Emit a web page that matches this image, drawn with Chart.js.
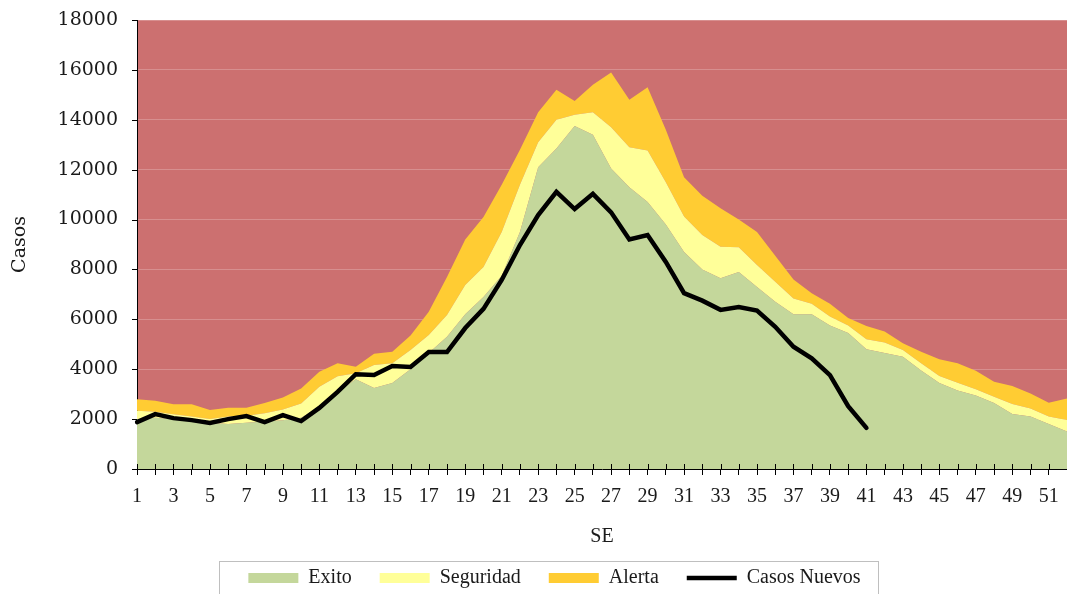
<!DOCTYPE html>
<html>
<head>
<meta charset="utf-8">
<script src="https://cdn.jsdelivr.net/npm/chart.js@4.4.1/dist/chart.umd.min.js"></script>
<style>
  html, body { margin: 0; padding: 0; background: #ffffff; }
  #wrap { width: 1067px; height: 594px; position: relative; }
</style>
</head>
<body>
<div id="wrap"><canvas id="c" width="1067" height="594"></canvas></div>
<script>
// Semanas epidemiológicas (SE)
const semanas = ['1','2','3','4','5','6','7','8','9','10','11','12','13','14','15','16','17','18','19','20',
  '21','22','23','24','25','26','27','28','29','30','31','32','33','34','35','36','37','38','39','40',
  '41','42','43','44','45','46','47','48','49','50','51','52'];

// Upper limit of each zone of the endemic channel
const exito = [2000,2050,2000,1950,1850,1800,1850,1900,1950,2050,
  2500,3100,3600,3250,3450,4000,4650,5300,6200,6900,
  7750,9500,12100,12850,13750,13400,12050,11300,10700,9800,
  8700,8000,7650,7900,7300,6700,6200,6200,5750,5450,
  4800,4650,4500,3950,3450,3150,2950,2650,2200,2100,1800,1500];

const seguridad = [2340,2300,2190,2100,2000,2100,2130,2230,2390,2630,
  3300,3720,3840,4170,4240,4770,5370,6170,7380,8100,
  9500,11400,13100,14000,14200,14300,13700,12900,12770,11500,
  10120,9380,8910,8890,8180,7510,6840,6620,6110,5750,
  5200,5070,4770,4240,3730,3460,3200,2900,2610,2430,2100,1960];

const alerta = [2800,2740,2600,2600,2370,2460,2460,2650,2870,3230,
  3900,4240,4100,4620,4700,5350,6300,7700,9200,10100,
  11400,12800,14300,15200,14750,15400,15900,14800,15300,13600,
  11700,10950,10450,10000,9500,8550,7600,7050,6620,6050,
  5730,5510,5040,4700,4400,4240,3940,3500,3330,3030,2660,2830];

const casosNuevos = [1880,2200,2040,1960,1850,2000,2120,1880,2160,1920,
  2450,3090,3800,3770,4130,4090,4690,4690,5650,6420,
  7580,8980,10180,11110,10420,11030,10290,9200,9380,8300,
  7050,6750,6380,6490,6350,5700,4900,4440,3760,2520,
  1650,null,null,null,null,null,null,null,null,null,null,null];

const yMax = 18000;
const yStep = 2000;

const COL_EPIDEMIA = '#CC7070';
const COL_EXITO = '#C4D79B';
const COL_SEGURIDAD = '#FFFF99';
const COL_ALERTA = '#FFCC33';

const bgPlugin = {
  id: 'zoneBackground',
  beforeDraw(chart) {
    const a = chart.chartArea;
    const ctx = chart.ctx;
    ctx.save();
    ctx.fillStyle = COL_EPIDEMIA;
    ctx.fillRect(a.left, a.top, a.right - a.left, a.bottom - a.top);
    ctx.restore();
  }
};

const extrasPlugin = {
  id: 'extras',
  afterLayout(chart) {
    const lg = chart.legend;
    if (lg) { lg.left += 21; lg.right += 21; }
  },
  afterDraw(chart) {
    const ctx = chart.ctx;
    const xs = chart.scales.x;
    const ys = chart.scales.y;
    ctx.save();
    ctx.strokeStyle = '#000';
    ctx.lineWidth = 1;
    ctx.beginPath();
    // tick marks crossing the category axis
    for (let i = 0; i < xs.ticks.length; i++) {
      const px = Math.round(xs.getPixelForTick(i)) + 0.5;
      ctx.moveTo(px, xs.top - 5);
      ctx.lineTo(px, xs.top);
    }
    // short outer tick marks on the value axis
    for (let i = 0; i < ys.ticks.length; i++) {
      const py = Math.round(ys.getPixelForTick(i)) + 0.5;
      ctx.moveTo(ys.right - 5, py);
      ctx.lineTo(ys.right, py);
    }
    ctx.stroke();
    // legend frame
    const hb = chart.legend && chart.legend.legendHitBoxes;
    if (hb && hb.length) {
      const first = hb[0], last = hb[hb.length - 1];
      const l = Math.round(first.left - 29) + 0.5;
      const r = Math.round(last.left + last.width + 17) + 0.5;
      ctx.strokeStyle = '#BFBFBF';
      ctx.strokeRect(l, 561.5, r - l, 60);
    }
    ctx.restore();
  }
};

new Chart(document.getElementById('c'), {
  type: 'line',
  data: {
    labels: semanas,
    datasets: [
      { label: 'Exito', data: exito, backgroundColor: COL_EXITO, borderColor: COL_EXITO,
        borderWidth: 0, pointRadius: 0, fill: 'origin', tension: 0, pointStyle: 'rect', order: 1 },
      { label: 'Seguridad', data: seguridad, backgroundColor: COL_SEGURIDAD, borderColor: COL_SEGURIDAD,
        borderWidth: 0, pointRadius: 0, fill: '-1', tension: 0, pointStyle: 'rect', order: 1 },
      { label: 'Alerta', data: alerta, backgroundColor: COL_ALERTA, borderColor: COL_ALERTA,
        borderWidth: 0, pointRadius: 0, fill: '-1', tension: 0, pointStyle: 'rect', order: 1 },
      { label: 'Casos Nuevos', data: casosNuevos, backgroundColor: '#000', borderColor: '#000',
        borderWidth: 4.5, pointRadius: 0, fill: false, tension: 0, pointStyle: 'line',
        borderCapStyle: 'round', borderJoinStyle: 'miter', spanGaps: false, order: 0 }
    ]
  },
  options: {
    responsive: false,
    animation: false,
    devicePixelRatio: 1,
    layout: { padding: { top: 20, right: 0, bottom: -4, left: 0 } },
    plugins: {
      legend: {
        position: 'bottom',
        labels: {
          usePointStyle: true,
          pointStyleWidth: 50,
          boxHeight: 10,
          padding: 28,
          color: '#1a1a1a',
          font: { family: 'Liberation Serif', size: 20 },
          sort: (a, b) => a.datasetIndex - b.datasetIndex
        }
      },
      tooltip: { enabled: false }
    },
    scales: {
      x: {
        type: 'category',
        offset: false,
        afterFit(s) { s.height = 71; s.paddingRight = 0; },
        grid: { display: true, drawOnChartArea: false, drawTicks: true, tickLength: 6, tickColor: '#000' },
        border: { display: true, color: '#000', width: 1 },
        ticks: {
          autoSkip: false, maxRotation: 0, minRotation: 0, padding: 10,
          color: '#1a1a1a',
          font: { family: 'Liberation Serif', size: 20 },
          callback: function(v, i) { return (i % 2 === 0) ? this.getLabelForValue(v) : ''; }
        },
        title: {
          display: true, text: 'SE', color: '#1a1a1a',
          font: { family: 'Liberation Serif', size: 20 },
          padding: { top: 0, bottom: -9 }
        }
      },
      y: {
        min: 0, max: yMax,
        afterFit(s) { s.width = 137; },
        grid: { color: 'rgba(255,255,255,0.22)', lineWidth: 1, drawTicks: true, tickLength: 16, tickColor: 'rgba(0,0,0,0)' },
        border: { display: true, color: '#000', width: 1 },
        ticks: {
          stepSize: yStep, padding: 3, color: '#1a1a1a',
          font: { family: 'DejaVu Serif', size: 19 },
          callback: (v) => String(v)
        },
        title: {
          display: true, text: 'Casos', color: '#1a1a1a',
          font: { family: 'DejaVu Serif', size: 19 },
          padding: { top: 9, bottom: 0 }
        }
      }
    }
  },
  plugins: [bgPlugin, extrasPlugin]
});
</script>
</body>
</html>
